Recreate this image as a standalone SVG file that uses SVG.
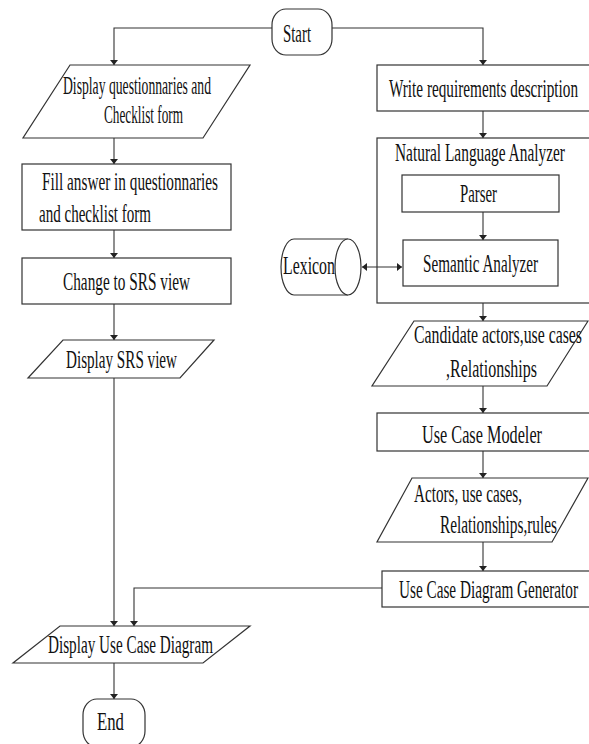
<svg xmlns="http://www.w3.org/2000/svg" width="589" height="744" viewBox="0 0 589 744">
<defs>
<marker id="arr" viewBox="0 0 10 10" refX="10" refY="5" markerWidth="5" markerHeight="8" markerUnits="userSpaceOnUse" orient="auto-start-reverse" preserveAspectRatio="none">
<path d="M0,0 L10,5 L0,10 z" fill="#222"/>
</marker>
<style>
.s{fill:#fff;stroke:#333;stroke-width:1.2}
.c{fill:none;stroke:#333;stroke-width:1.1}
.t{font-family:'Liberation Serif','Times New Roman',serif;font-size:25px;fill:#111}
</style>
</defs>
<rect width="589" height="744" fill="#fff"/>
<g id="start">
<rect class="s" x="272" y="9" width="60" height="46" rx="14" ry="16"/>
<text class="t" x="283" y="42" textLength="28" lengthAdjust="spacingAndGlyphs">Start</text>
</g>
<g id="display-questionnaries">
<path class="s" d="M70,65 H250 L203,138 H23 Z"/>
<text class="t" x="63" y="94" textLength="148" lengthAdjust="spacingAndGlyphs">Display questionnaries and</text>
<text class="t" x="104" y="123" textLength="79" lengthAdjust="spacingAndGlyphs">Checklist form</text>
</g>
<g id="fill-answer">
<rect class="s" x="22" y="164" width="209" height="66"/>
<text class="t" x="42" y="190" textLength="176" lengthAdjust="spacingAndGlyphs">Fill answer in questionnaries</text>
<text class="t" x="39" y="222" textLength="112" lengthAdjust="spacingAndGlyphs">and checklist form</text>
</g>
<g id="change-srs">
<rect class="s" x="22" y="258" width="209" height="46"/>
<text class="t" x="63" y="290" textLength="127" lengthAdjust="spacingAndGlyphs">Change to SRS view</text>
</g>
<g id="display-srs">
<path class="s" d="M63,340 H214 L180,378 H28 Z"/>
<text class="t" x="66" y="368" textLength="111" lengthAdjust="spacingAndGlyphs">Display SRS view</text>
</g>
<g id="display-ucd">
<path class="s" d="M60,626 H250 L203,663 H13 Z"/>
<text class="t" x="48" y="653" textLength="165" lengthAdjust="spacingAndGlyphs">Display Use Case Diagram</text>
</g>
<g id="end">
<rect class="s" x="83" y="699" width="62" height="48" rx="14" ry="16"/>
<text class="t" x="97" y="730" textLength="27" lengthAdjust="spacingAndGlyphs">End</text>
</g>
<g id="write-req">
<rect class="s" x="377" y="65" width="214" height="46"/>
<text class="t" x="389" y="97" textLength="189" lengthAdjust="spacingAndGlyphs">Write requirements description</text>
</g>
<g id="nla">
<rect class="s" x="377" y="138" width="214" height="165"/>
<text class="t" x="395" y="161" textLength="170" lengthAdjust="spacingAndGlyphs">Natural Language Analyzer</text>
</g>
<g id="parser">
<rect class="s" x="402" y="175" width="157" height="37"/>
<text class="t" x="460" y="202" textLength="37" lengthAdjust="spacingAndGlyphs">Parser</text>
</g>
<g id="semantic">
<rect class="s" x="403" y="240" width="155" height="46"/>
<text class="t" x="423" y="272" textLength="115" lengthAdjust="spacingAndGlyphs">Semantic Analyzer</text>
</g>
<g id="lexicon">
<path class="s" d="M348,239 H294 A13,28 0 0 0 294,295 H348"/>
<ellipse class="s" cx="348" cy="267" rx="13" ry="28"/>
<text class="t" x="283" y="274" textLength="52" lengthAdjust="spacingAndGlyphs">Lexicon</text>
</g>
<g id="candidate">
<path class="s" d="M414,321 H588 L547,386 H372 Z"/>
<text class="t" x="414" y="343" textLength="168" lengthAdjust="spacingAndGlyphs">Candidate actors,use cases</text>
<text class="t" x="446" y="377" textLength="91" lengthAdjust="spacingAndGlyphs">,Relationships</text>
</g>
<g id="ucm">
<rect class="s" x="377" y="413" width="214" height="38"/>
<text class="t" x="422" y="443" textLength="120" lengthAdjust="spacingAndGlyphs">Use Case Modeler</text>
</g>
<g id="actors">
<path class="s" d="M412,478 H588 L552,542 H377 Z"/>
<text class="t" x="414" y="502" textLength="108" lengthAdjust="spacingAndGlyphs">Actors, use cases,</text>
<text class="t" x="440" y="533" textLength="117" lengthAdjust="spacingAndGlyphs">Relationships,rules</text>
</g>
<g id="ucdg">
<rect class="s" x="382" y="571" width="209" height="36"/>
<text class="t" x="399" y="598" textLength="179" lengthAdjust="spacingAndGlyphs">Use Case Diagram Generator</text>
</g>
<g id="connectors">
<path class="c" d="M272,28 H114 V65" marker-end="url(#arr)"/>
<path class="c" d="M332,28 H483 V65" marker-end="url(#arr)"/>
<path class="c" d="M114,138 V164" marker-end="url(#arr)"/>
<path class="c" d="M114,230 V258" marker-end="url(#arr)"/>
<path class="c" d="M114,304 V340" marker-end="url(#arr)"/>
<path class="c" d="M114,378 V626" marker-end="url(#arr)"/>
<path class="c" d="M114,663 V699" marker-end="url(#arr)"/>
<path class="c" d="M483,111 V138" marker-end="url(#arr)"/>
<path class="c" d="M483,212 V240" marker-end="url(#arr)"/>
<path class="c" d="M362,267 H402" marker-start="url(#arr)" marker-end="url(#arr)"/>
<path class="c" d="M483,303 V321" marker-end="url(#arr)"/>
<path class="c" d="M483,386 V413" marker-end="url(#arr)"/>
<path class="c" d="M483,451 V478" marker-end="url(#arr)"/>
<path class="c" d="M483,542 V571" marker-end="url(#arr)"/>
<path class="c" d="M382,588 H134 V626" marker-end="url(#arr)"/>
</g>
</svg>
